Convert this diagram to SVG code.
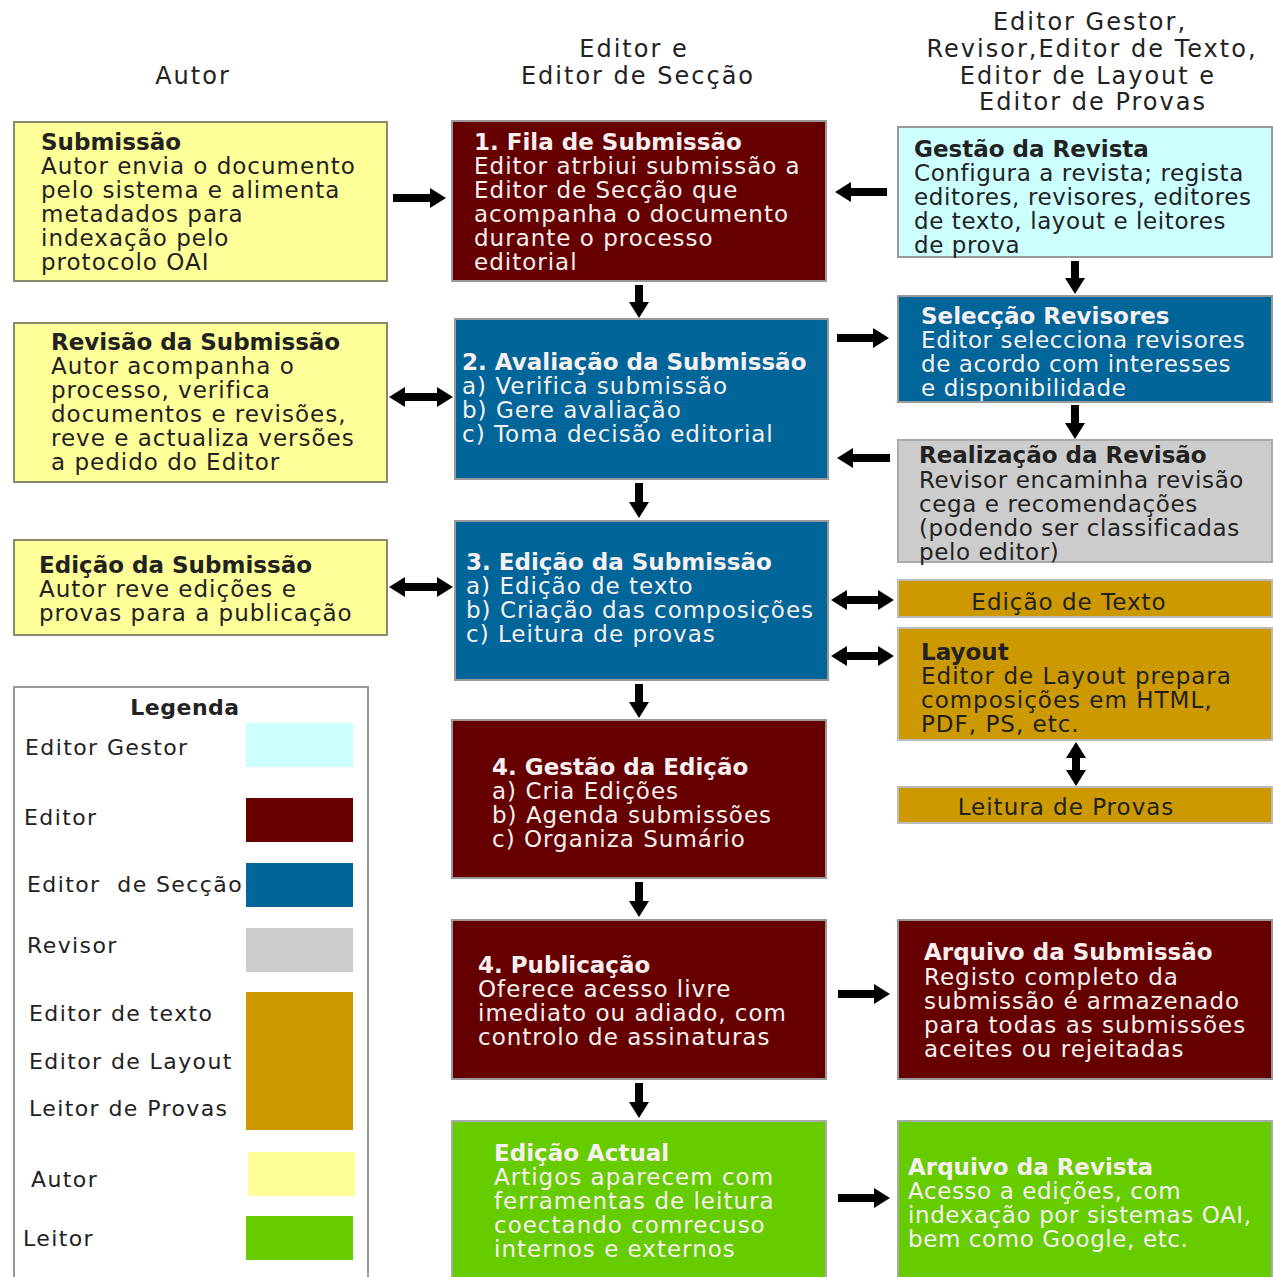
<svg xmlns="http://www.w3.org/2000/svg" width="1273" height="1277" viewBox="0 0 1273 1277">
<style>
text{font-family:"DejaVu Sans",Verdana,"Liberation Sans",sans-serif;font-size:23px;letter-spacing:1px}
.hd{font-size:24px;letter-spacing:2px;fill:#222;text-anchor:middle}
.t{font-weight:bold;letter-spacing:0}
.dk{fill:#222}
.lt{fill:#F8F0F0}
.nar{letter-spacing:0.6px}
.yel{fill:#FFFF99;stroke:#8a8a70;stroke-width:2}
.red{fill:#660000;stroke:#999;stroke-width:2}
.blu{fill:#006699;stroke:#999;stroke-width:2}
.cya{fill:#CCFFFF;stroke:#999;stroke-width:2}
.gry{fill:#CCCCCC;stroke:#aaa;stroke-width:2}
.ora{fill:#CC9900;stroke:#bbb;stroke-width:2}
.grn{fill:#66CC00;stroke:#aaa;stroke-width:2}
.arr{stroke:#000;stroke-width:8;fill:none;marker-end:url(#ah)}
.dbl{stroke:#000;stroke-width:8;fill:none;marker-end:url(#ah);marker-start:url(#ah)}
.lg{font-size:22px;letter-spacing:1.4px;fill:#222}
.lg.t{letter-spacing:0.5px}
</style>
<defs>
<marker id="ah" markerUnits="userSpaceOnUse" markerWidth="16" markerHeight="20" viewBox="0 0 16 20" refX="0" refY="10" orient="auto-start-reverse">
<path d="M0,0 L16,10 L0,20 z" fill="#000"/>
</marker>
</defs>
<rect width="1273" height="1277" fill="#fff"/>

<g id="headers">
<text class="hd" x="193" y="84">Autor</text>
<text class="hd" x="634" y="57">Editor e</text>
<text class="hd" x="638" y="84">Editor de Secção</text>
<text class="hd" x="1090" y="30">Editor Gestor,</text>
<text class="hd" x="1092" y="57">Revisor,Editor de Texto,</text>
<text class="hd" x="1088" y="84">Editor de Layout e</text>
<text class="hd" x="1093" y="110">Editor de Provas</text>
</g>

<g id="connectors">
<line class="arr" x1="393" y1="198" x2="430" y2="198"/>
<line class="arr" x1="887" y1="192" x2="851" y2="192"/>
<line class="arr" x1="639" y1="285" x2="639" y2="302"/>
<line class="arr" x1="1075" y1="261" x2="1075" y2="278"/>
<line class="arr" x1="837" y1="338" x2="873" y2="338"/>
<line class="arr" x1="1075" y1="405" x2="1075" y2="423"/>
<line class="arr" x1="890" y1="458" x2="853" y2="458"/>
<line class="dbl" x1="405" y1="397" x2="437" y2="397"/>
<line class="arr" x1="639" y1="483" x2="639" y2="502"/>
<line class="dbl" x1="405" y1="587" x2="437" y2="587"/>
<line class="dbl" x1="847" y1="600" x2="878" y2="600"/>
<line class="dbl" x1="847" y1="656" x2="878" y2="656"/>
<line class="dbl" x1="1076" y1="758" x2="1076" y2="770"/>
<line class="arr" x1="639" y1="684" x2="639" y2="702"/>
<line class="arr" x1="639" y1="882" x2="639" y2="901"/>
<line class="arr" x1="838" y1="994" x2="874" y2="994"/>
<line class="arr" x1="639" y1="1083" x2="639" y2="1102"/>
<line class="arr" x1="838" y1="1198" x2="874" y2="1198"/>
</g>

<g id="submissao">
<rect class="yel" x="14" y="122" width="373" height="159"/>
<text class="dk t" x="41" y="150">Submissão</text>
<text class="dk" x="41" y="174">Autor envia o documento</text>
<text class="dk" x="41" y="198">pelo sistema e alimenta</text>
<text class="dk" x="41" y="222">metadados para</text>
<text class="dk" x="41" y="246">indexação pelo</text>
<text class="dk" x="41" y="270">protocolo OAI</text>
</g>

<g id="fila">
<rect class="red" x="452" y="121" width="374" height="160"/>
<text class="lt t" x="474" y="150">1. Fila de Submissão</text>
<text class="lt" x="474" y="174">Editor atrbiui submissão a</text>
<text class="lt" x="474" y="198">Editor de Secção que</text>
<text class="lt" x="474" y="222">acompanha o documento</text>
<text class="lt" x="474" y="246">durante o processo</text>
<text class="lt" x="474" y="270">editorial</text>
</g>

<g id="gestao-revista">
<rect class="cya" x="898" y="127" width="374" height="130"/>
<text class="dk t" x="914" y="157">Gestão da Revista</text>
<text class="dk nar" x="914" y="181">Configura a revista; regista</text>
<text class="dk nar" x="914" y="205">editores, revisores, editores</text>
<text class="dk nar" x="914" y="229">de texto, layout e leitores</text>
<text class="dk nar" x="914" y="253">de prova</text>
</g>

<g id="revisao">
<rect class="yel" x="14" y="323" width="373" height="159"/>
<text class="dk t" x="51" y="350">Revisão da Submissão</text>
<text class="dk" x="51" y="374">Autor acompanha o</text>
<text class="dk" x="51" y="398">processo, verifica</text>
<text class="dk" x="51" y="422">documentos e revisões,</text>
<text class="dk" x="51" y="446">reve e actualiza versões</text>
<text class="dk" x="51" y="470">a pedido do Editor</text>
</g>

<g id="avaliacao">
<rect class="blu" x="455" y="319" width="373" height="160"/>
<text class="lt t" x="462" y="370">2. Avaliação da Submissão</text>
<text class="lt" x="462" y="394">a) Verifica submissão</text>
<text class="lt" x="462" y="418">b) Gere avaliação</text>
<text class="lt" x="462" y="442">c) Toma decisão editorial</text>
</g>

<g id="seleccao">
<rect class="blu" x="898" y="296" width="374" height="106"/>
<text class="lt t" x="921" y="324">Selecção Revisores</text>
<text class="lt nar" x="921" y="348">Editor selecciona revisores</text>
<text class="lt nar" x="921" y="372">de acordo com interesses</text>
<text class="lt nar" x="921" y="396">e disponibilidade</text>
</g>

<g id="realizacao">
<rect class="gry" x="898" y="440" width="374" height="122"/>
<text class="dk t" x="919" y="463">Realização da Revisão</text>
<text class="dk nar" x="919" y="488">Revisor encaminha revisão</text>
<text class="dk nar" x="919" y="512">cega e recomendações</text>
<text class="dk nar" x="919" y="536">(podendo ser classificadas</text>
<text class="dk nar" x="919" y="560">pelo editor)</text>
</g>

<g id="edicao-autor">
<rect class="yel" x="14" y="540" width="373" height="95"/>
<text class="dk t" x="39" y="573">Edição da Submissão</text>
<text class="dk" x="39" y="597">Autor reve edições e</text>
<text class="dk" x="39" y="621">provas para a publicação</text>
</g>

<g id="edicao">
<rect class="blu" x="455" y="521" width="373" height="159"/>
<text class="lt t" x="466" y="570">3. Edição da Submissão</text>
<text class="lt" x="466" y="594">a) Edição de texto</text>
<text class="lt" x="466" y="618">b) Criação das composições</text>
<text class="lt" x="466" y="642">c) Leitura de provas</text>
</g>

<g id="edicao-texto">
<rect class="ora" x="898" y="580" width="374" height="37"/>
<text class="dk" x="1069" y="610" text-anchor="middle">Edição de Texto</text>
</g>

<g id="layout">
<rect class="ora" x="898" y="628" width="374" height="112"/>
<text class="dk t" x="921" y="660">Layout</text>
<text class="dk" x="921" y="684">Editor de Layout prepara</text>
<text class="dk" x="921" y="708">composições em HTML,</text>
<text class="dk" x="921" y="732">PDF, PS, etc.</text>
</g>

<g id="leitura-provas">
<rect class="ora" x="898" y="787" width="374" height="36"/>
<text class="dk" x="1066" y="815" text-anchor="middle">Leitura de Provas</text>
</g>

<g id="gestao-edicao">
<rect class="red" x="452" y="720" width="374" height="158"/>
<text class="lt t" x="492" y="775">4. Gestão da Edição</text>
<text class="lt" x="492" y="799">a) Cria Edições</text>
<text class="lt" x="492" y="823">b) Agenda submissões</text>
<text class="lt" x="492" y="847">c) Organiza Sumário</text>
</g>

<g id="publicacao">
<rect class="red" x="452" y="920" width="374" height="159"/>
<text class="lt t" x="478" y="973">4. Publicação</text>
<text class="lt" x="478" y="997">Oferece acesso livre</text>
<text class="lt" x="478" y="1021">imediato ou adiado, com</text>
<text class="lt" x="478" y="1045">controlo de assinaturas</text>
</g>

<g id="arquivo-submissao">
<rect class="red" x="898" y="920" width="374" height="159"/>
<text class="lt t" x="924" y="960">Arquivo da Submissão</text>
<text class="lt" x="924" y="985">Registo completo da</text>
<text class="lt" x="924" y="1009">submissão é armazenado</text>
<text class="lt" x="924" y="1033">para todas as submissões</text>
<text class="lt" x="924" y="1057">aceites ou rejeitadas</text>
</g>

<g id="edicao-actual">
<rect class="grn" x="452" y="1121" width="374" height="160"/>
<text class="lt t" x="494" y="1161">Edição Actual</text>
<text class="lt" x="494" y="1185">Artigos aparecem com</text>
<text class="lt" x="494" y="1209">ferramentas de leitura</text>
<text class="lt" x="494" y="1233">coectando comrecuso</text>
<text class="lt" x="494" y="1257">internos e externos</text>
</g>

<g id="arquivo-revista">
<rect class="grn" x="898" y="1121" width="374" height="160"/>
<text class="lt t" x="908" y="1175">Arquivo da Revista</text>
<text class="lt nar" x="908" y="1199">Acesso a edições, com</text>
<text class="lt nar" x="908" y="1223">indexação por sistemas OAI,</text>
<text class="lt nar" x="908" y="1247">bem como Google, etc.</text>
</g>

<g id="legenda">
<rect x="14" y="687" width="354" height="600" fill="#fff" stroke="#999" stroke-width="2"/>
<text class="lg t" x="185" y="715" text-anchor="middle">Legenda</text>
<text class="lg" x="25" y="755">Editor Gestor</text>
<rect x="246" y="723" width="107" height="44" fill="#CCFFFF"/>
<text class="lg" x="24" y="825">Editor</text>
<rect x="246" y="798" width="107" height="44" fill="#660000"/>
<text class="lg" x="27" y="892" xml:space="preserve">Editor  de Secção</text>
<rect x="246" y="863" width="107" height="44" fill="#006699"/>
<text class="lg" x="27" y="953">Revisor</text>
<rect x="246" y="928" width="107" height="44" fill="#CCCCCC"/>
<text class="lg" x="29" y="1021">Editor de texto</text>
<text class="lg" x="29" y="1069">Editor de Layout</text>
<text class="lg" x="29" y="1116">Leitor de Provas</text>
<rect x="246" y="992" width="107" height="138" fill="#CC9900"/>
<text class="lg" x="31" y="1187">Autor</text>
<rect x="248" y="1152" width="107" height="44" fill="#FFFF99"/>
<text class="lg" x="23" y="1246">Leitor</text>
<rect x="246" y="1216" width="107" height="44" fill="#66CC00"/>
</g>
</svg>
